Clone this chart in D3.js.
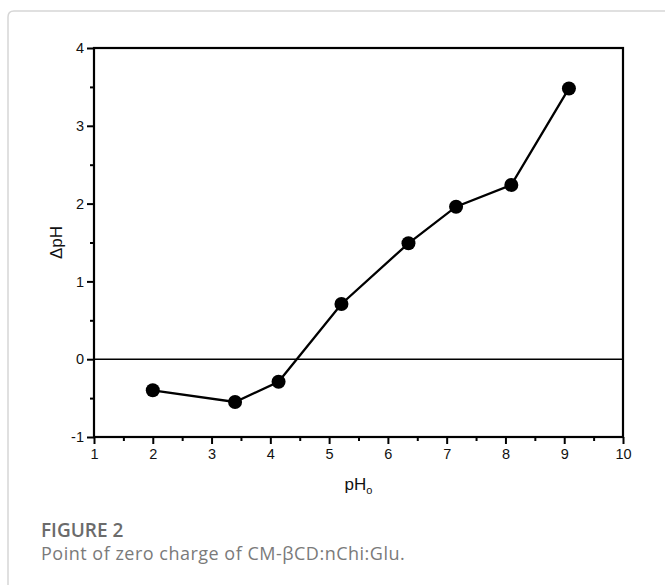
<!DOCTYPE html>
<html>
<head>
<meta charset="utf-8">
<script src="https://cdn.jsdelivr.net/npm/d3@7"></script>
<style>
  html, body { margin: 0; padding: 0; background: #fff; }
  svg { display: block; }
  .arial { font-family: "Liberation Sans", Arimo, Arial, Helvetica, sans-serif; }
</style>
</head>
<body>
<svg id="chart"></svg>
<script>
// data
const phStart = [2.0, 3.4, 4.14, 5.21, 6.35, 7.16, 8.1, 9.08];
const deltaPh = [-0.40, -0.55, -0.29, 0.71, 1.49, 1.96, 2.24, 3.48];
const xTicks = [1, 2, 3, 4, 5, 6, 7, 8, 9, 10];
const yTicks = [-1, 0, 1, 2, 3, 4];

const canvWidth = 665;
const canvHeight = 585;
const margin = { top: 48, right: 42, bottom: 148, left: 94 };
const width = canvWidth - margin.left - margin.right;
const height = canvHeight - margin.top - margin.bottom;

const svg = d3.select("#chart")
    .attr("width", canvWidth)
    .attr("height", canvHeight);

// light frame round the figure
svg.append("path")
    .attr("d", "M8,600 L8,17 Q8,11 14,11 L680,11")
    .attr("fill", "none")
    .attr("stroke", "#d6d6d6")
    .attr("stroke-width", 1.5);

const g = svg.append("g")
    .attr("transform", "translate(" + margin.left + "," + margin.top + ")");

const x = d3.scaleLinear().domain([1, 10]).range([0, width]);
const y = d3.scaleLinear().domain([-1, 4]).range([height, 0]);

// minor ticks at half units
const xMinor = d3.range(1.5, 10, 1);
const yMinor = d3.range(-0.5, 4, 1);

const plain = function (d) { return String(d); };

// bottom axis
g.append("g")
    .attr("class", "axis")
    .attr("transform", "translate(0," + height + ")")
    .call(d3.axisBottom(x).tickValues(xTicks).tickSize(7).tickPadding(5).tickFormat(plain));
g.append("g")
    .attr("transform", "translate(0," + height + ")")
    .call(d3.axisBottom(x).tickValues(xMinor).tickSize(4).tickFormat(""));

// left axis
g.append("g")
    .attr("class", "axis")
    .call(d3.axisLeft(y).tickValues(yTicks).tickSize(7).tickPadding(3).tickFormat(plain));
g.append("g")
    .call(d3.axisLeft(y).tickValues(yMinor).tickSize(4).tickFormat(""));

g.selectAll(".domain").remove();
g.selectAll(".tick line").attr("stroke", "#000").attr("stroke-width", 2);
g.selectAll(".axis")
    .attr("font-family", null)
    .attr("font-size", null)
    .attr("class", "axis arial");
g.selectAll(".tick text")
    .attr("fill", "#111")
    .attr("font-size", 14.5);

// box
g.append("rect")
    .attr("x", 0).attr("y", 0)
    .attr("width", width).attr("height", height)
    .attr("fill", "none")
    .attr("stroke", "#000")
    .attr("stroke-width", 2.2);

// zero line
g.append("line")
    .attr("x1", 0).attr("x2", width)
    .attr("y1", y(0)).attr("y2", y(0))
    .attr("stroke", "#000")
    .attr("stroke-width", 1.6);

const points = phStart.map(function (d, i) { return { x: d, y: deltaPh[i] }; });

const line = d3.line()
    .x(function (d) { return x(d.x); })
    .y(function (d) { return y(d.y); });

g.append("path")
    .datum(points)
    .attr("d", line)
    .attr("fill", "none")
    .attr("stroke", "#000")
    .attr("stroke-width", 2.3);

g.selectAll(".dot")
    .data(points)
    .enter().append("circle")
    .attr("class", "dot")
    .attr("cx", function (d) { return x(d.x); })
    .attr("cy", function (d) { return y(d.y); })
    .attr("r", 7)
    .attr("fill", "#000");

// axis titles
const xTitle = g.append("text")
    .attr("class", "arial")
    .attr("x", width / 2)
    .attr("y", height + 53)
    .attr("text-anchor", "middle")
    .attr("font-size", 17)
    .attr("fill", "#111");
xTitle.append("tspan").text("pH");
xTitle.append("tspan").attr("dy", 4).attr("font-size", 11).text("o");

g.append("text")
    .attr("class", "arial")
    .attr("transform", "translate(-32," + (height / 2) + ") rotate(-90)")
    .attr("text-anchor", "middle")
    .attr("font-size", 17)
    .attr("fill", "#111")
    .text("\u0394pH");

// caption
svg.append("text")
    .attr("x", 41)
    .attr("y", 537)
    .style("font-family", "'Open Sans', sans-serif")
    .style("font-size", "19px")
    .style("font-weight", 600)
    .attr("fill", "#6b6b6b")
    .text("FIGURE 2");

svg.append("text")
    .attr("x", 41)
    .attr("y", 560)
    .style("font-family", "'Open Sans', sans-serif")
    .style("font-size", "18px")
    .style("letter-spacing", "0.5px")
    .attr("fill", "#7a7a7a")
    .text("Point of zero charge of CM-\u03b2CD:nChi:Glu.");
</script>
</body>
</html>
